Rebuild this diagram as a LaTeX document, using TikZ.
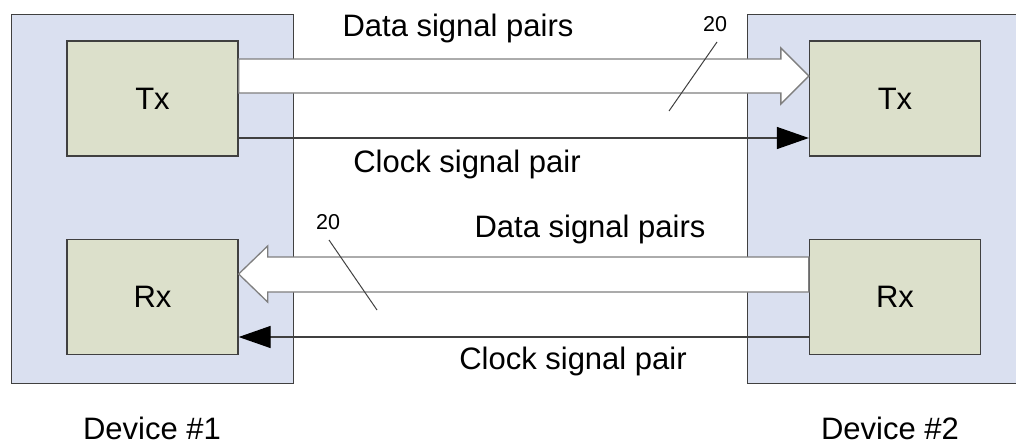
\documentclass[tikz,border=0pt]{standalone}
\usepackage{fontspec}
\setmainfont{Liberation Sans}
\usetikzlibrary{arrows.meta,calc}
\definecolor{devfill}{HTML}{DAE0F0}
\definecolor{blkfill}{HTML}{DCE0CB}
\definecolor{edge}{HTML}{404040}
\definecolor{bigedge}{HTML}{7F7F7F}
\tikzset{
  device/.style={draw=edge, fill=devfill, line width=1.3pt, anchor=north west, inner sep=0pt},
  block/.style={draw=edge, fill=blkfill, line width=1.3pt, minimum width=171pt, minimum height=115pt, inner sep=0pt, font=\fontsize{31}{36}\selectfont},
  lbl/.style={font=\fontsize{31}{36}\selectfont, inner sep=0pt},
  small/.style={font=\fontsize{21.5}{25}\selectfont, inner sep=0pt},
  bigarrow/.style={draw=bigedge, fill=white, line width=1.3pt, line join=miter},
  clock/.style={draw=edge, line width=1.3pt, -{Triangle[length=32pt,width=22pt,fill=black,color=black]}},
  slash/.style={draw=edge, line width=1pt}
}
\begin{document}
\begin{tikzpicture}[x=1pt,y=-1pt]
\useasboundingbox (0,0) rectangle (1016,445);
\node[device, minimum width=282pt, minimum height=369pt] (dev1) at (11,14) {};
\node[device, minimum width=280pt, minimum height=369pt] (dev2) at (747,14) {};
\node[block] (tx1) at (152.5,98.5) {Tx};
\node[block] (tx2) at (895,98.5) {Tx};
\node[block] (rx1) at (152.5,297) {Rx};
\node[block] (rx2) at (895,297) {Rx};
% top data arrow
\path[bigarrow] (tx1.east |- 0,59) -- ($(tx2.west |- 0,59)+(-28,0)$) -- ($(tx2.west |- 0,48)+(-28,0)$)
  -- (tx2.west |- 0,76) -- ($(tx2.west |- 0,104)+(-28,0)$) -- ($(tx2.west |- 0,93)+(-28,0)$)
  -- (tx1.east |- 0,93) -- cycle;
% top clock
\draw[clock] (tx1.east |- 0,138) -- (tx2.west |- 0,138);
% bottom data arrow
\path[bigarrow] (rx2.west |- 0,257) -- ($(rx1.east |- 0,257)+(29,0)$) -- ($(rx1.east |- 0,246)+(29,0)$)
  -- (rx1.east |- 0,274) -- ($(rx1.east |- 0,302)+(29,0)$) -- ($(rx1.east |- 0,292)+(29,0)$)
  -- (rx2.west |- 0,292) -- cycle;
% bottom clock
\draw[clock] (rx2.west |- 0,337) -- (rx1.east |- 0,337);
% slashes
\coordinate (s1a) at (669,111);
\coordinate (s1b) at (717,42);
\draw[slash] (s1a) -- (s1b);
\node[small] (n20a) at (715,24) {20};
\coordinate (s2a) at (329,240);
\coordinate (s2b) at (377,310);
\draw[slash] (s2a) -- (s2b);
\node[small] (n20b) at (328,222) {20};
% labels
\node[lbl] (d1) at (458,28) {Data signal pairs};
\node[lbl] (c1) at (467,164) {Clock signal pair};
\node[lbl] (d2) at (590,229) {Data signal pairs};
\node[lbl] (c2) at (573,361) {Clock signal pair};
\node[lbl] (dv1) at (152,428) {Device \#1};
\node[lbl] (dv2) at (890,428) {Device \#2};
\end{tikzpicture}
\end{document}
